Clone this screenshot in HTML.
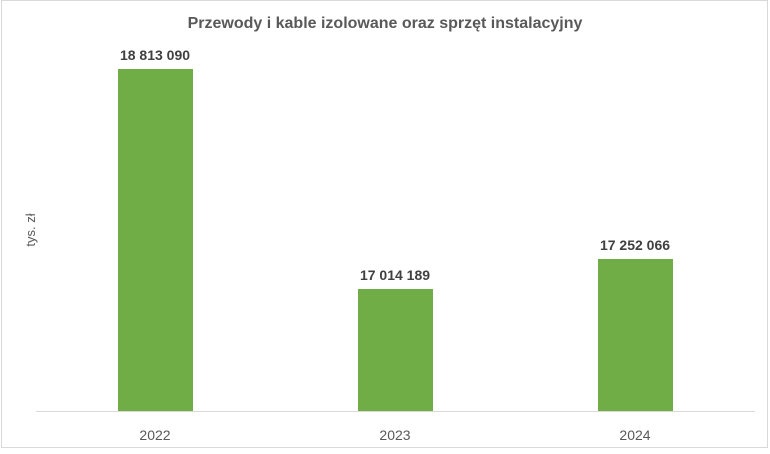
<!DOCTYPE html>
<html><head><meta charset="utf-8"><style>
body{margin:0;width:770px;height:449px;background:#fff;overflow:hidden}
</style></head><body>
<svg width="770" height="449" xmlns="http://www.w3.org/2000/svg" font-family="Liberation Sans, sans-serif">
<rect x="1.5" y="0.5" width="766" height="447" fill="#fff" stroke="#d9d9d9"/>
<text x="385" y="28" text-anchor="middle" font-size="16" font-weight="bold" fill="#595959">Przewody i kable izolowane oraz sprzęt instalacyjny</text>
<line x1="36" y1="411.5" x2="755" y2="411.5" stroke="#d9d9d9"/>
<rect x="118" y="69" width="75" height="342" fill="#70ad47"/>
<rect x="358" y="289" width="75" height="122" fill="#70ad47"/>
<rect x="598" y="259" width="75" height="152" fill="#70ad47"/>
<g font-size="14" font-weight="bold" fill="#404040" text-anchor="middle">
<text x="155" y="60">18 813 090</text>
<text x="395" y="280">17 014 189</text>
<text x="635" y="250">17 252 066</text>
</g>
<g font-size="14" fill="#595959" text-anchor="middle">
<text x="155" y="440">2022</text>
<text x="395" y="440">2023</text>
<text x="635" y="440">2024</text>
</g>
<text transform="translate(35,230) rotate(-90)" font-size="13" fill="#595959" text-anchor="middle">tys. zł</text>
</svg>
</body></html>
